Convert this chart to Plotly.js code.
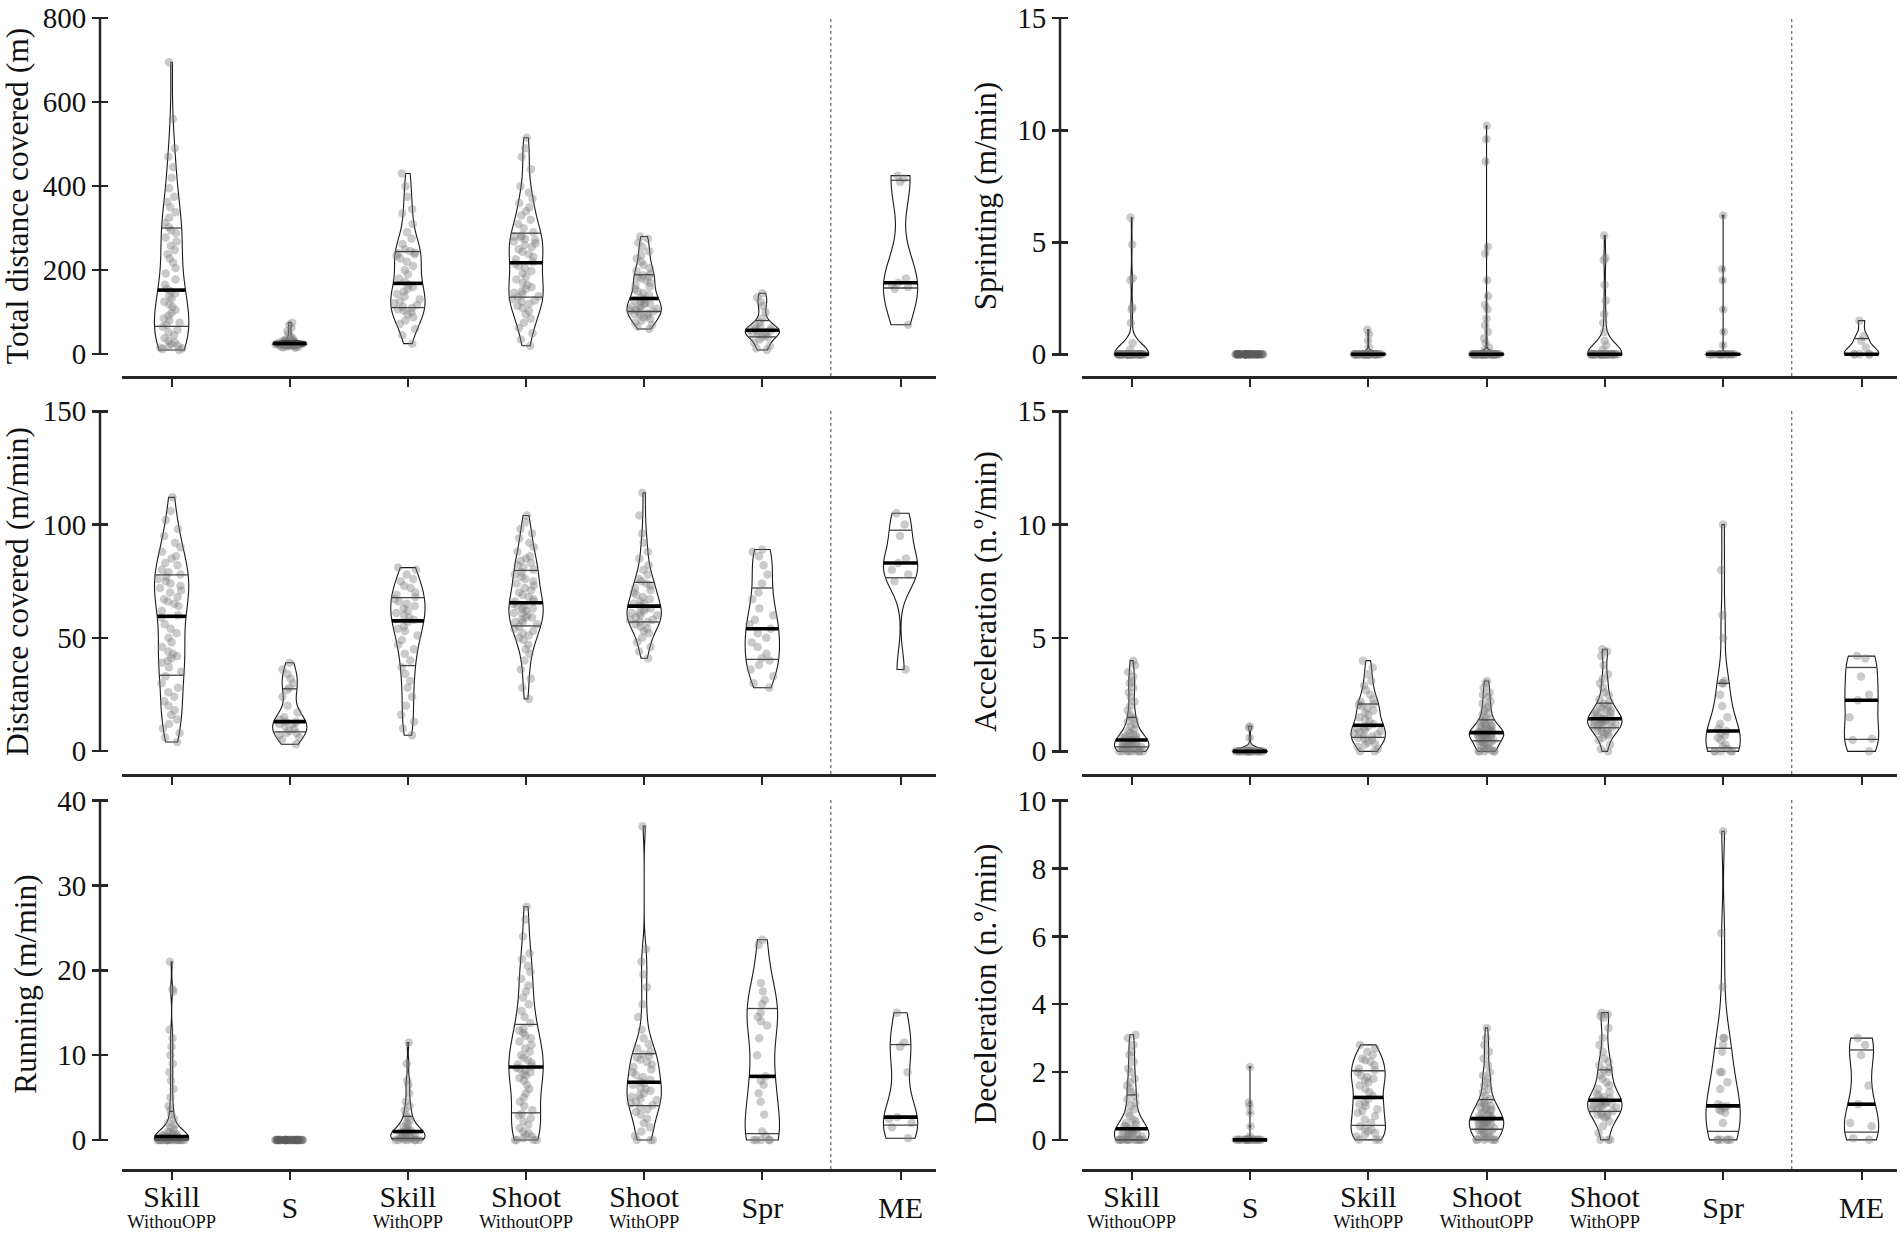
<!DOCTYPE html>
<html><head><meta charset="utf-8">
<script src="https://cdn.plot.ly/plotly-3.0.1.min.js"></script>
<style>html,body{margin:0;padding:0;background:#fff}#chart{width:1900px;height:1238px}</style>
</head><body><div id="chart"></div>
<script>
// ---------------- DATA ----------------
const categories = ["Skill", "S", "Skill", "Shoot", "Shoot", "Spr", "ME"];
const subLabels  = ["WithouOPP", "", "WithOPP", "WithoutOPP", "WithOPP", "", ""];

const yTitles = ["Total distance covered (m)", "Distance covered (m/min)", "Running (m/min)",
                 "Sprinting (m/min)", "Acceleration (n.º/min)", "Deceleration (n.º/min)"];
const yTicksTotal = [0, 200, 400, 600, 800];
const yTicksDist  = [0, 50, 100, 150];
const yTicksRun   = [0, 10, 20, 30, 40];
const yTicksSprint = [0, 5, 10, 15];
const yTicksAcc   = [0, 5, 10, 15];
const yTicksDec   = [0, 2, 4, 6, 8, 10];

const totalDistance = [
  [10,12,14,15,18,20,24,28,32,38,45,52,58,65,70,75,80,85,92,98,105,112,118,125,132,138,145,150,155,165,178,192,205,218,228,238,248,258,268,278,288,295,302,312,325,338,350,362,375,395,420,445,470,490,560,695],
  [15,16,17,18,18,19,20,20,21,21,22,22,23,23,24,24,25,25,25,26,26,27,27,28,28,29,30,30,31,32,33,35,38,42,48,55,62,70,75],
  [25,45,60,72,80,88,95,100,104,107,110,113,117,121,126,131,137,143,149,155,160,165,172,180,190,200,210,220,228,234,238,240,242,245,250,262,275,290,310,335,345,375,400,430],
  [20,35,50,62,75,85,95,103,110,115,120,125,128,131,135,138,142,146,150,155,160,165,170,178,185,192,198,205,210,215,220,226,232,238,244,250,255,260,264,268,272,275,278,280,282,290,300,310,320,330,340,350,360,370,385,400,440,470,490,515],
  [60,65,70,75,80,84,87,90,93,95,97,100,102,104,106,108,110,112,115,118,120,122,125,128,130,135,140,145,150,155,160,165,170,175,180,183,185,188,192,198,205,212,220,228,236,245,255,265,275,280],
  [10,14,20,28,35,40,42,45,48,50,52,55,57,58,60,62,65,70,75,85,100,115,125,135,145],
  [70,155,160,165,170,180,410,418,425]
];

const distanceCovered = [
  [4,6,8,10,12,14,16,18,20,22,24,26,28,30,33,35,37,39,40,41,42,43,44,46,48,50,52,54,56,59,60,62,64,65,66,67,68,70,71,72,73,74,75,76,77,78,79,80,82,83,85,86,88,90,92,95,98,102,106,112],
  [3,5,6,7,8,8,9,10,11,12,12,13,13,14,15,17,20,24,27,28,30,32,34,36,39],
  [7,10,13,16,20,24,28,31,34,37,40,43,45,47,49,51,53,54,55,57,58,59,60,61,62,63,64,65,66,67,68,69,70,72,73,75,76,78,80,81],
  [23,28,32,36,40,43,45,47,49,50,51,52,53,54,55,56,57,57,58,59,59,60,61,61,62,63,63,64,64,65,66,66,67,68,69,70,71,72,73,74,75,76,77,78,79,80,81,82,83,84,85,86,88,90,92,94,96,98,101,104],
  [41,44,46,48,50,52,53,54,55,56,57,57,58,58,59,60,60,61,61,62,63,63,64,65,65,66,67,68,69,70,71,72,73,74,75,76,78,80,82,85,88,92,96,104,114],
  [28,30,33,36,38,40,41,43,46,48,50,52,54,56,58,60,63,67,70,74,78,82,86,88,89],
  [36,75,78,80,83,85,95,100,105]
];

const running = [
  [0,0,0,0,0,0,0,0,0,0,0,0,0,0,0,0,0,0,0,0,0.1,0.1,0.2,0.2,0.3,0.3,0.3,0.4,0.4,0.5,0.5,0.6,0.7,0.8,0.9,1.0,1.2,1.5,1.8,2.0,2.5,3,3.5,4,5,6,7,8,9,10,11,12,13,17.5,17.8,21],
  [0,0,0,0,0,0,0,0,0,0,0,0,0,0,0,0,0,0,0,0,0,0],
  [0,0,0,0,0,0,0,0.1,0.2,0.2,0.3,0.4,0.5,0.5,0.6,0.7,0.8,0.9,1.0,1.0,1.1,1.2,1.4,1.6,1.8,2.0,2.3,2.6,3.0,3.5,4.0,4.5,5.5,6.5,7.0,9.0,11.5],
  [0,0,0,0,0.2,0.4,0.6,0.8,1.0,1.4,1.8,2.2,2.6,2.9,3.1,3.5,4.0,4.5,5.0,5.5,6.0,6.5,7.0,7.3,7.6,7.8,8.0,8.2,8.4,8.5,8.7,8.9,9.1,9.4,9.7,10.0,10.4,10.8,11.2,11.6,12.0,12.3,12.6,12.9,13.1,13.8,14.5,15.2,16.0,16.8,17.5,18.2,19.0,19.8,20.5,21.3,22.0,24.0,26.0,27.5],
  [0,0,0,0.5,1.0,1.5,2.0,2.5,3.0,3.3,3.6,3.9,4.1,4.3,4.5,4.7,4.9,5.1,5.3,5.5,5.8,6.0,6.2,6.5,6.7,6.9,7.1,7.4,7.7,8.0,8.3,8.6,8.9,9.2,9.5,9.7,9.9,10.1,10.4,10.8,11.3,12.0,13.0,14.5,16.0,18.0,19.5,21.0,22.5,37.0],
  [0,0,0,0,0,0.5,1.0,3.0,4.5,5.5,6.5,7.0,7.5,10,12,13.5,14,14.5,15,16,16.5,17.5,18.5,23,23.6],
  [0.2,1.5,2.0,2.5,2.7,8.0,11.0,11.5,15.0]
];

const sprinting = [
  [0,0,0,0,0,0,0,0,0,0,0,0,0,0,0,0,0,0,0,0,0,0,0,0,0,0,0,0,0,0,0,0,0,0,0,0,0,0,0,0,0,0,0,0,0,0,0,0.2,0.5,1.4,2.0,2.1,3.3,3.4,4.9,6.1],
  [0,0,0,0,0,0,0,0,0,0,0,0,0,0,0,0,0,0,0,0,0,0,0,0,0],
  [0,0,0,0,0,0,0,0,0,0,0,0,0,0,0,0,0,0,0,0,0,0,0,0,0,0,0,0,0,0,0,0,0,0,0,0,0.3,0.6,0.9,1.1],
  [0,0,0,0,0,0,0,0,0,0,0,0,0,0,0,0,0,0,0,0,0,0,0,0,0,0,0,0,0,0,0,0,0,0,0,0,0,0,0,0,0,0,0,0,0.2,0.3,0.5,0.7,1.0,1.3,1.6,2.0,2.2,2.6,3.3,4.5,4.8,8.6,9.6,10.2],
  [0,0,0,0,0,0,0,0,0,0,0,0,0,0,0,0,0,0,0,0,0,0,0,0,0,0,0,0,0,0,0,0,0,0,0,0,0,0,0,0.2,0.4,0.6,1.0,1.4,1.8,2.4,3.1,4.2,4.3,5.3],
  [0,0,0,0,0,0,0,0,0,0,0,0,0,0,0,0,0,0,0,0.4,1.0,2.0,3.3,3.8,6.2],
  [0,0,0,0,0,0.3,0.6,0.8,1.5]
];

const acceleration = [
  [0,0,0,0,0,0,0,0,0,0.1,0.1,0.1,0.15,0.2,0.2,0.2,0.25,0.3,0.3,0.3,0.35,0.4,0.4,0.45,0.5,0.5,0.5,0.5,0.55,0.6,0.6,0.65,0.7,0.75,0.8,0.9,1.0,1.1,1.2,1.3,1.4,1.5,1.6,1.8,2.0,2.2,2.4,2.6,2.8,3.0,3.1,3.3,3.5,3.8,4.0],
  [0,0,0,0,0,0,0,0,0,0,0,0,0,0,0,0,0,0,0,0,0,0.2,0.6,1.05,1.1],
  [0,0,0.1,0.2,0.3,0.35,0.4,0.5,0.55,0.6,0.65,0.7,0.75,0.8,0.85,0.9,0.95,1.0,1.05,1.1,1.2,1.3,1.4,1.5,1.6,1.7,1.8,1.9,2.0,2.05,2.1,2.2,2.3,2.5,2.7,2.9,3.1,3.4,3.7,4.0],
  [0,0,0,0,0,0.05,0.1,0.15,0.2,0.25,0.3,0.35,0.4,0.4,0.45,0.5,0.5,0.55,0.6,0.6,0.65,0.65,0.7,0.7,0.7,0.75,0.75,0.8,0.8,0.8,0.85,0.85,0.9,0.9,0.95,1.0,1.0,1.05,1.1,1.1,1.15,1.2,1.25,1.3,1.35,1.4,1.5,1.6,1.7,1.8,1.9,2.0,2.1,2.2,2.4,2.5,2.6,2.8,3.0,3.1],
  [0,0.1,0.3,0.5,0.6,0.7,0.75,0.8,0.85,0.9,0.95,1.0,1.05,1.1,1.15,1.2,1.22,1.25,1.28,1.3,1.32,1.35,1.38,1.4,1.42,1.45,1.5,1.55,1.6,1.65,1.7,1.75,1.8,1.85,1.9,1.95,2.0,2.1,2.2,2.3,2.5,2.6,2.8,3.0,3.2,3.4,3.8,4.2,4.4,4.5],
  [0,0,0,0,0,0.1,0.2,0.3,0.5,0.6,0.7,0.8,0.9,1.0,1.2,1.5,2.0,2.5,3.0,3.0,3.1,5.0,6.0,8.0,10.0],
  [0,0.5,0.55,1.5,2.25,2.5,3.3,4.1,4.2]
];

const deceleration = [
  [0,0,0,0,0,0,0,0,0,0,0,0,0,0,0.05,0.1,0.1,0.15,0.15,0.2,0.2,0.2,0.25,0.25,0.25,0.3,0.3,0.35,0.4,0.4,0.45,0.5,0.55,0.6,0.7,0.8,0.9,1.0,1.1,1.2,1.3,1.4,1.5,1.6,1.7,1.8,2.0,2.1,2.3,2.5,2.6,2.8,3.0,3.1],
  [0,0,0,0,0,0,0,0,0,0,0,0,0,0,0,0,0,0,0,0.1,0.4,0.8,1.0,1.1,2.15],
  [0,0,0,0.1,0.15,0.2,0.25,0.3,0.35,0.4,0.5,0.6,0.7,0.8,0.85,0.9,1.0,1.05,1.1,1.2,1.3,1.4,1.5,1.6,1.7,1.75,1.8,1.85,1.9,2.0,2.05,2.1,2.2,2.3,2.35,2.4,2.5,2.6,2.7,2.8],
  [0,0,0,0,0,0,0.05,0.1,0.1,0.15,0.2,0.2,0.25,0.3,0.3,0.35,0.35,0.4,0.4,0.45,0.45,0.5,0.5,0.5,0.55,0.55,0.6,0.6,0.6,0.6,0.65,0.7,0.7,0.75,0.8,0.8,0.85,0.9,0.9,0.95,1.0,1.0,1.05,1.1,1.15,1.2,1.3,1.4,1.5,1.6,1.7,1.8,1.9,2.0,2.2,2.4,2.6,2.8,3.0,3.3],
  [0,0,0,0.2,0.4,0.55,0.65,0.7,0.72,0.75,0.78,0.8,0.85,0.9,0.92,0.95,0.98,1.0,1.02,1.05,1.08,1.1,1.12,1.14,1.15,1.18,1.22,1.26,1.3,1.35,1.4,1.5,1.6,1.7,1.8,1.9,2.0,2.05,2.1,2.2,2.3,2.4,2.6,2.8,3.0,3.3,3.6,3.65,3.7,3.75],
  [0,0,0,0,0,0,0.5,0.8,0.85,0.9,0.95,1.0,1.0,1.05,1.5,1.7,2.0,2.0,2.6,2.8,3.0,3.0,4.5,6.1,9.1],
  [0,0.05,0.4,0.5,1.05,1.6,2.5,2.8,3.0]
];

// ---------------- LAYOUT / STYLE ----------------
const panels = [totalDistance, distanceCovered, running, sprinting, acceleration, deceleration];
const panelTicks = [yTicksTotal, yTicksDist, yTicksRun, yTicksSprint, yTicksAcc, yTicksDec];
const W = 1900, H = 1238;
const catX = [0, 1, 2, 3, 4, 5, 6.17];
const xRange = [-0.42, 6.47];
const sepX = 5.58;
const yRanges = [[-52, 805], [-10.1, 151], [-3.42, 40.2], [-0.97, 15.1], [-1.0, 15.1], [-0.86, 10.05]];
const rowPx = [[16, 376], [409, 774], [799, 1169]];
const colPx = [[122, 936], [1082, 1897]];
const yLinePx = [100, 1060];
const VW = 0.29;              // violin full width (x units)
const FONT = "Liberation Serif, Times New Roman, serif";
const AX = "#262626";

function sortNum(a){ return a.slice().sort((p,q)=>p-q); }
function quant(s, p){ // type-6 quantile (n+1)p
  const n = s.length; let h = (n + 1) * p - 1;
  if (h <= 0) return s[0]; if (h >= n - 1) return s[n - 1];
  const lo = Math.floor(h); return s[lo] + (h - lo) * (s[lo + 1] - s[lo]);
}
function sd(a){ const n=a.length; const m=a.reduce((x,y)=>x+y,0)/n; return Math.sqrt(a.reduce((x,y)=>x+(y-m)*(y-m),0)/(n-1)); }
function gauss(v){ return Math.exp(-0.5*v*v)/Math.sqrt(2*Math.PI); }

const traces = [], shapes = [];
const layout = {
  width: W, height: H, margin: {l:0, r:0, t:0, b:0},
  paper_bgcolor: "#fff", plot_bgcolor: "rgba(0,0,0,0)",
  showlegend: false, violinmode: "overlay", hovermode: false,
  font: {family: FONT, color: "#111"}
};

const tickText = categories.map((c, i) => subLabels[i]
  ? '<span style="font-size:30px">' + c + '</span><br>\u00A0<br><span style="font-size:18.5px">' + subLabels[i] + '</span>'
  : '\u00A0<br><span style="font-size:30px">' + c + '</span>');

for (let p = 0; p < 6; p++) {
  const col = p < 3 ? 0 : 1, row = p % 3;
  const s = p === 0 ? "" : String(p + 1);
  const xa = "x" + s, ya = "y" + s;
  const ticks = panelTicks[p];
  const bottom = row === 2;
  layout["xaxis" + s] = {
    domain: [colPx[col][0] / W, colPx[col][1] / W], anchor: ya,
    range: xRange, tickvals: catX, ticktext: bottom ? tickText : categories.map(() => ""),
    showticklabels: bottom, tickangle: 0,
    ticks: "outside", ticklen: 8, tickwidth: 2, tickcolor: AX,
    showline: true, linewidth: 2.5, linecolor: AX,
    showgrid: false, zeroline: false,
    tickfont: {family: FONT, size: 8, color: "#111"}, ticklabelstandoff: 18,
    ticklabeloverflow: "allow"
  };
  layout["yaxis" + s] = {
    domain: [1 - rowPx[row][1] / H, 1 - rowPx[row][0] / H],
    anchor: "free", position: (yLinePx[col] + 8) / W,
    range: yRanges[p], tickvals: ticks,
    ticks: "outside", ticklen: 16, tickwidth: 2.5, tickcolor: AX,
    showline: false, showgrid: false, zeroline: false,
    tickfont: {family: FONT, size: 29, color: "#111"},
    ticklabeloverflow: "allow",
    title: {text: yTitles[p], font: {family: FONT, size: 31.5, color: "#111"}, standoff: 10}
  };
  // y axis line from 0 to top tick
  shapes.push({type: "line", xref: "paper", yref: ya, x0: yLinePx[col] / W, x1: yLinePx[col] / W,
               y0: ticks[0], y1: ticks[ticks.length - 1], line: {color: AX, width: 2.5}, layer: "above"});
  // dashed separator
  shapes.push({type: "line", xref: xa, yref: ya + " domain", x0: sepX, x1: sepX, y0: 0, y1: 1,
               line: {color: "#666", width: 1.2, dash: "dot"}});

  const groups = panels[p];
  for (let c = 0; c < 7; c++) {
    const vals = groups[c];
    const sorted = sortNum(vals);
    const n = sorted.length;
    const mn = sorted[0], mx = sorted[n - 1], span = mx - mn;
    const q1 = quant(sorted, 0.25), med = quant(sorted, 0.5), q3 = quant(sorted, 0.75);
    const axSpan = yRanges[p][1] - yRanges[p][0];
    let bw, zero = span === 0;
    if (zero) {
      bw = axSpan * 0.004;
    } else {
      let lo = Math.min(sd(vals), (q3 - q1) / 1.349);
      if (!(lo > 0)) lo = sd(vals);
      bw = Math.max(0.8 * lo * Math.pow(n, -0.2), span / 100);
    }
    traces.push({
      type: "violin", x0: catX[c], y: vals, xaxis: xa, yaxis: ya,
      width: VW, scalegroup: "g" + p + "_" + c, scalemode: "width",
      spanmode: zero ? "soft" : "hard", bandwidth: bw,
      points: "all", pointpos: 0, jitter: 0.85,
      marker: {size: 8.5, color: zero ? "rgba(90,90,90,0.55)" : "rgba(125,125,125,0.40)", line: {width: 0}},
      line: {color: "#1a1a1a", width: zero ? 0 : 1.1},
      fillcolor: "rgba(0,0,0,0)",
      box: {visible: false}, meanline: {visible: false},
      hoverinfo: "skip", showlegend: false
    });
    if (zero) continue;
    // KDE replicating Plotly's violin scaling (hard span)
    const kde = x => { let sum = 0; for (const v of vals) sum += gauss((x - v) / bw); return sum / (n * bw); };
    const steps = Math.ceil(span / (bw / 3)), step = span / steps;
    let maxK = 0;
    for (let t = mn; t < mx + step / 2; t += step) maxK = Math.max(maxK, kde(t));
    [[q1, 1.3, "#444"], [q3, 1.3, "#444"], [med, 3.6, "#000"]].forEach(([q, w, colr]) => {
      const hw = (VW / 2) * kde(q) / maxK;
      traces.push({type: "scatter", mode: "lines", xaxis: xa, yaxis: ya,
        x: [catX[c] - hw, catX[c] + hw], y: [q, q],
        line: {color: colr, width: w}, hoverinfo: "skip", showlegend: false});
    });
  }
}
layout.shapes = shapes;
Plotly.newPlot("chart", traces, layout, {staticPlot: true, displayModeBar: false});
</script>
</body></html>
